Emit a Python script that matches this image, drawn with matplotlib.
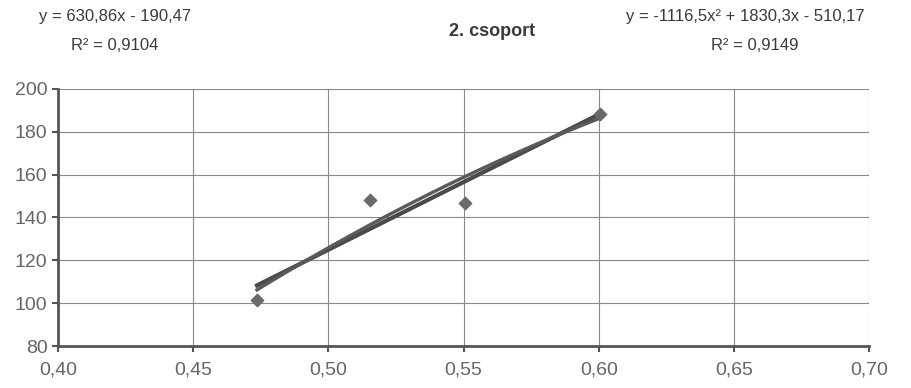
import numpy as np
import matplotlib.pyplot as plt
from matplotlib.ticker import FuncFormatter

plt.rcParams['font.family'] = ['Liberation Sans', 'DejaVu Sans']

# measured points
x_pts = [0.4736, 0.5153, 0.5507, 0.6003]
y_pts = [101.5, 148.2, 146.6, 188.2]

# trendline coefficients as printed on the chart
lin_coef = [630.86, -190.47]
poly_coef = [-1116.5, 1830.3, -510.17]

x_ticks = [0.40, 0.45, 0.50, 0.55, 0.60, 0.65, 0.70]
y_ticks = [80, 100, 120, 140, 160, 180, 200]

fig = plt.figure(figsize=(9.11, 3.88), dpi=100)
ax = fig.add_axes([0.0637, 0.108, 0.8903, 0.663])

xs = np.linspace(min(x_pts), max(x_pts), 100)
ax.plot(xs, np.polyval(lin_coef, xs), color='#4a4a4a', lw=3.0, zorder=3)
ax.plot(xs, np.polyval(poly_coef, xs), color='#5a5a5a', lw=2.4, zorder=3)
ax.scatter(x_pts, y_pts, marker='D', s=40, color='#6a6a6a', zorder=4)

ax.set_xlim(0.40, 0.70)
ax.set_ylim(80, 200)
ax.set_xticks(x_ticks)
ax.set_yticks(y_ticks)
ax.xaxis.set_major_formatter(FuncFormatter(lambda v, p: f'{v:.2f}'.replace('.', ',')))
ax.grid(True, color='#8a8a8a', lw=0.8)
ax.set_axisbelow(True)

for s in ['top', 'right']:
    ax.spines[s].set_visible(False)
for s in ['left', 'bottom']:
    ax.spines[s].set_color('#555555')
    ax.spines[s].set_linewidth(2.0)
ax.tick_params(colors='#555555', labelcolor='#666666', labelsize=14, length=4, width=1.5)
ax.tick_params(axis='x', pad=7)

tc = '#3a3a3a'
nf = ['Liberation Sans Narrow', 'Liberation Sans', 'DejaVu Sans']
fig.text(115 / 911, 1 - 17 / 388, 'y = 630,86x - 190,47', ha='center', va='center', fontsize=12, color=tc, family=nf)
fig.text(115 / 911, 1 - 45 / 388, 'R² = 0,9104', ha='center', va='center', fontsize=12, color=tc, family=nf)
fig.text(492 / 911, 1 - 32 / 388, '2. csoport', ha='center', va='center', fontsize=13, color=tc, fontweight='bold', family=nf)
fig.text(745 / 911, 1 - 17 / 388, 'y = -1116,5x² + 1830,3x - 510,17', ha='center', va='center', fontsize=12, color=tc, family=nf)
fig.text(755 / 911, 1 - 45 / 388, 'R² = 0,9149', ha='center', va='center', fontsize=12, color=tc, family=nf)

fig.savefig('out.png', dpi=100)
